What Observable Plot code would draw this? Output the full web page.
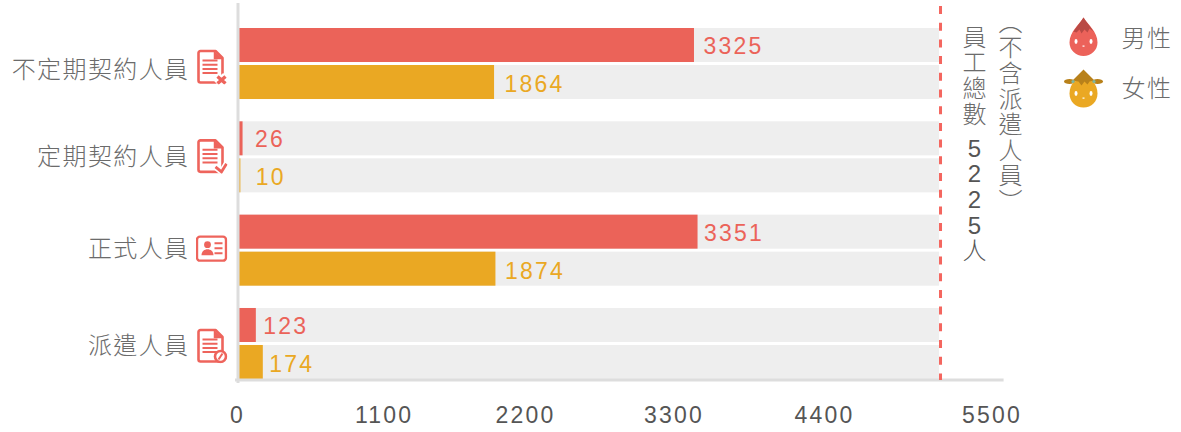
<!DOCTYPE html>
<html><head><meta charset="utf-8">
<script src="https://cdn.jsdelivr.net/npm/d3@7"></script>
<script src="https://cdn.jsdelivr.net/npm/@observablehq/plot@0.6"></script>
<style>
html,body{margin:0;padding:0;background:#fff}
svg text{font-family:"Liberation Sans","Noto Sans CJK TC",sans-serif;font-weight:300}
</style></head><body><div id="chart"></div>
<script>
const categories = ["不定期契約人員","定期契約人員","正式人員","派遣人員"];
const genders = ["男性","女性"];
const maleValues = [3325,26,3351,123];
const femaleValues = [1864,10,1874,174];
const tickValues = [0,1100,2200,3300,4400,5500];
const trackMax = 5116;
const markerValue = 5123;
const colors = {"男性":"#eb6359","女性":"#eaa823"};

const rows = categories.flatMap((c,i)=>[
  {category:c,gender:"男性",value:maleValues[i]},
  {category:c,gender:"女性",value:femaleValues[i]}
]);
const labelNudge = [9,10,12,15,6,9,7,6];
const tickNudge = [-2,-6,-15,-17,-17,0];
const categoryNudge = [6,0,-1,2];
const iconNudge = [2.5,-1.5,-2,1.5];

const spaced = px => (index,scales,values,dims,ctx,next) => {
  const g = next(index,scales,values,dims,ctx);
  g.style.letterSpacing = px+"px";
  return g;
};

const svgUri = s => "data:image/svg+xml;utf8,"+encodeURIComponent(`<svg xmlns="http://www.w3.org/2000/svg" viewBox="0 0 32 36">${s}</svg>`);
const R="#ee645c";
const doc = `<path d="M5 2.5H20L27 9.5V32a2 2 0 0 1-2 2H5a2 2 0 0 1-2-2V4.500a2 2 0 0 1 2-2Z" fill="#fff" stroke="${R}" stroke-width="2.6" stroke-linejoin="round"/><path d="M19 3V10H26.500" fill="${R}" stroke="${R}" stroke-width="1.5"/><path d="M7 12H22M7 16.200H22M7 20.400H22M7 24.600H22" stroke="${R}" stroke-width="2"/>`;
const icons = {
 "不定期契約人員": doc+`<path d="M21 27L30 35M30 27L21 35" stroke="#fff" stroke-width="7"/><path d="M22 28L30 35M30 28L22 35" stroke="${R}" stroke-width="3.400"/>`,
 "定期契約人員": doc+`<path d="M20 29L26 34L31 26" fill="none" stroke="#fff" stroke-width="6"/><path d="M20 29L26 34L31 26" fill="none" stroke="${R}" stroke-width="2.800"/>`,
 "正式人員": `<rect x="1.500" y="6" width="29" height="24" rx="3" fill="#fff" stroke="${R}" stroke-width="2.400"/><circle cx="12" cy="14" r="3.400" fill="${R}"/><path d="M6 24.500c0-4 3-6 6-6s6 2 6 6Z" fill="${R}"/><path d="M19 12.500H27M19 17.500H27M19 22.500H27" stroke="${R}" stroke-width="2"/>`,
 "派遣人員": doc+`<circle cx="25" cy="29" r="5.500" fill="#fff" stroke="${R}" stroke-width="2.600"/><path d="M23 32L27 26" stroke="${R}" stroke-width="2"/>`
};
const face = `<ellipse cx="12.500" cy="25" rx="1.500" ry="2.400" fill="#fff"/><ellipse cx="27.500" cy="25" rx="1.500" ry="2.400" fill="#fff"/><rect x="19" y="29" width="2" height="1.200" fill="#fff"/>`;
const dropViewBox = s => "data:image/svg+xml;utf8,"+encodeURIComponent(`<svg xmlns="http://www.w3.org/2000/svg" viewBox="0 0 40 40">${s}</svg>`);
const maleIcon = dropViewBox(`<path d="M20 1C24 8 34 15 34 26A14 13.500 0 0 1 6 26C6 15 16 8 20 1Z" fill="#ec625a"/><path d="M20 1C23 6 27 10 30 15L26 12L24 16L21 13L18 17L16 13L13 16L10 15C13 10 17 6 20 1Z" fill="#b94a45"/>${face}`);
const femaleIcon = dropViewBox(`<ellipse cx="6" cy="13" rx="5.500" ry="2.400" fill="#b8811a"/><ellipse cx="34" cy="13" rx="5.500" ry="2.400" fill="#b8811a"/><path d="M6 25C6 15 13 10 20 10S34 15 34 25C34 33 28 39 20 39S6 33 6 25Z" fill="#eaa823"/><path d="M20 1L31 12L26 13L24 16L21 13L18 17L15 13L9 12Z" fill="#b8811a"/><circle cx="9.500" cy="13" r="1.600" fill="#7fb8a0"/><circle cx="30.500" cy="13" r="1.600" fill="#7fb8a0"/>${face}`);

const plotLeft=239, plotTop=28;
const fixedText=(text,px,py,opts={})=>Plot.text([text],{text:d=>d,frameAnchor:"top-left",dx:px-plotLeft,dy:py-plotTop,facet:"super",...opts});
const fixedImage=(src,px,py,w,h)=>Plot.image([0],{src:()=>src,frameAnchor:"top-left",dx:px-plotLeft+w/2,dy:py-plotTop+h/2,width:w,height:h,facet:"super"});

const chart = Plot.plot({
  width:1181,height:432,
  marginLeft:plotLeft,marginRight:189.4,marginTop:plotTop,marginBottom:53,
  x:{domain:[0,5500],axis:null},
  y:{domain:genders,paddingInner:.081,paddingOuter:0,axis:null,round:false},
  fy:{domain:categories,paddingInner:.239,paddingOuter:0,axis:null,round:false},
  marks:[
    Plot.barX(rows,{x:()=>trackMax,y:"gender",fy:"category",fill:"#eeeeee"}),
    Plot.barX(rows,{x:"value",y:"gender",fy:"category",fill:d=>colors[d.gender]}),
    ...rows.map((d,i)=>Plot.text([d],{x:"value",y:"gender",fy:"category",text:d=>String(d.value),textAnchor:"start",dx:labelNudge[i],dy:i%2?2:1,fill:colors[d.gender],fontSize:23,render:spaced(2.2)})),
    Plot.frame({anchor:"left",stroke:"#dddddd",strokeWidth:3,insetLeft:-1.5,insetTop:-24,insetBottom:-2,facet:"super"}),
    Plot.frame({anchor:"bottom",stroke:"#dddddd",strokeWidth:3,insetBottom:-.5,insetRight:-10,insetLeft:-3,facet:"super"}),
    Plot.ruleX([markerValue],{fy:()=>categories[0],stroke:"#f4665f",strokeWidth:3,strokeDasharray:"8 8.700",insetTop:-22,insetBottom:-281}),
    ...tickValues.map((t,i)=>Plot.text([t],{x:d=>d,fy:()=>categories[3],text:d=>String(d),frameAnchor:"bottom",lineAnchor:"middle",dy:36,dx:tickNudge[i],fill:"#555",fontSize:23,render:spaced(2.2)})),
    ...categories.map((c,i)=>Plot.text([c],{fy:d=>d,text:d=>d,frameAnchor:"left",textAnchor:"end",dx:189-plotLeft,dy:categoryNudge[i],fill:"#6b6b6b",fontSize:24,render:spaced(1.4)})),
    ...categories.map((c,i)=>Plot.image([c],{fy:d=>d,src:d=>svgUri(icons[d]),frameAnchor:"left",dx:211-plotLeft,dy:iconNudge[i],width:32,height:36})),
    fixedText("員\n工\n總\n數",974,27,{fontSize:24,lineHeight:1.067,fill:"#6b6b6b",lineAnchor:"top",textAnchor:"middle"}),
    fixedText("5\n2\n2\n5\n人",974,138,{fontSize:24,lineHeight:1.067,fill:"#555",lineAnchor:"top",textAnchor:"middle"}),
    fixedText("︵\n不\n含\n派\n遣\n人\n員\n︶",1010,12,{fontSize:24,lineHeight:1.067,fill:"#6b6b6b",lineAnchor:"top",textAnchor:"middle"}),
    fixedImage(maleIcon,1063,16,40,40),
    fixedImage(femaleIcon,1063,68,40,40),
    fixedText("男性",1121,39,{fontSize:24,fill:"#6b6b6b",textAnchor:"start",lineAnchor:"middle",render:spaced(1.4)}),
    fixedText("女性",1121,89,{fontSize:24,fill:"#6b6b6b",textAnchor:"start",lineAnchor:"middle",render:spaced(1.4)})
  ]
});
document.getElementById("chart").append(chart);
</script></body></html>
